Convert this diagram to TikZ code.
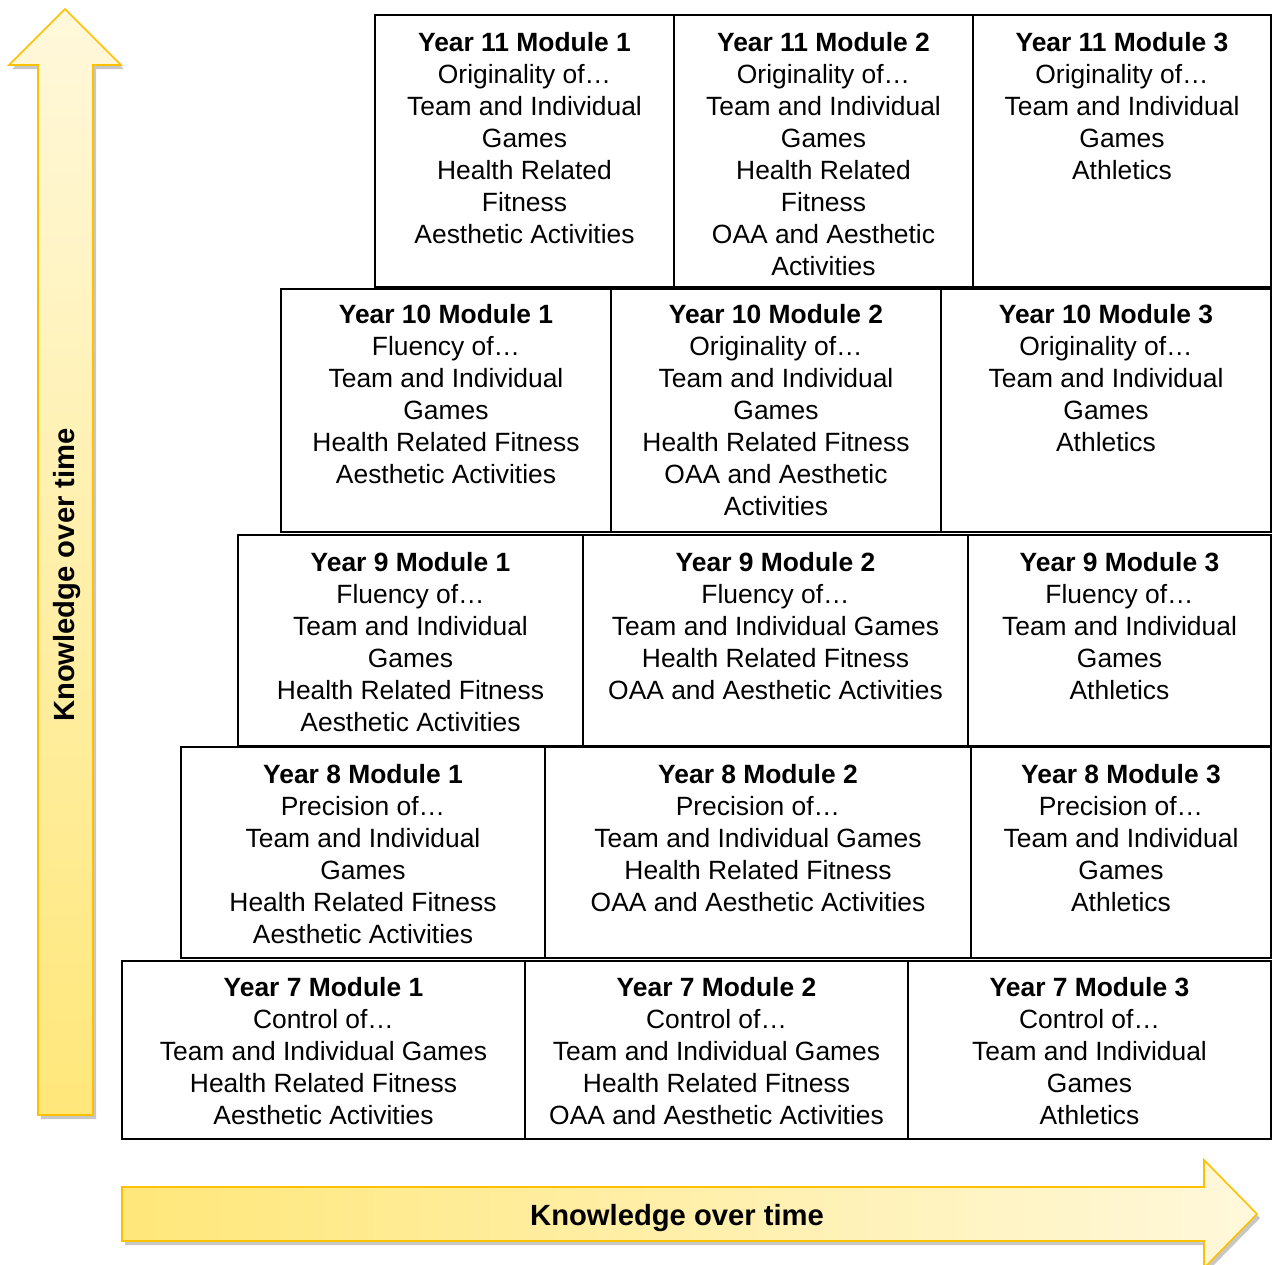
\documentclass[tikz,border=0pt]{standalone}
\usepackage{fontspec}
\setmainfont{Liberation Sans}
\definecolor{arrowedge}{HTML}{FFC000}
\definecolor{arrowdark}{HTML}{FFE77A}
\definecolor{arrowlight}{HTML}{FFF8DB}
\begin{document}
\begin{tikzpicture}[x=0.5pt,y=-0.5pt,
  cellbox/.style={draw=black,line width=1pt},
  celltext/.style={anchor=north,align=center,inner sep=0pt,font=\fontsize{13.2}{16}\selectfont},
  arrowtext/.style={font=\fontsize{14.6}{17}\selectfont\bfseries,inner sep=0pt},
  arrowshadow/.style={fill=black!40,opacity=0.55},
  arrowbody/.style={draw=arrowedge,line width=0.8pt,line join=miter}]
\useasboundingbox (0,0) rectangle (1272,1264);

% vertical arrow
\fill[arrowshadow,shift={(3,4)}] (65,9) -- (121,65) -- (93,65) -- (93,1115) -- (38,1115) -- (38,65) -- (9,65) -- cycle;
\shade[top color=arrowlight,bottom color=arrowdark] (65,9) -- (121,65) -- (93,65) -- (93,1115) -- (38,1115) -- (38,65) -- (9,65) -- cycle;
\draw[arrowbody] (65,9) -- (121,65) -- (93,65) -- (93,1115) -- (38,1115) -- (38,65) -- (9,65) -- cycle;
\node[arrowtext,rotate=90] (vlabel) at (67,575) {Knowledge over time};

% horizontal arrow
\fill[arrowshadow,shift={(3,4)}] (122,1187) -- (1204,1187) -- (1204,1160) -- (1257,1214) -- (1204,1268) -- (1204,1241) -- (122,1241) -- cycle;
\shade[left color=arrowdark,right color=arrowlight] (122,1187) -- (1204,1187) -- (1204,1160) -- (1257,1214) -- (1204,1268) -- (1204,1241) -- (122,1241) -- cycle;
\draw[arrowbody] (122,1187) -- (1204,1187) -- (1204,1160) -- (1257,1214) -- (1204,1268) -- (1204,1241) -- (122,1241) -- cycle;
\node[arrowtext] (hlabel) at (677,1218) {Knowledge over time};

% Year 11
\draw[cellbox] (375,15) rectangle (674,287);
\draw[cellbox] (674,15) rectangle (973,287);
\draw[cellbox] (973,15) rectangle (1271,287);
\node[celltext] (y11m1) at (524.5,32) {\textbf{Year 11 Module 1}\\Originality of…\\Team and Individual\\Games\\Health Related\\Fitness\\Aesthetic Activities};
\node[celltext] (y11m2) at (823.5,32) {\textbf{Year 11 Module 2}\\Originality of…\\Team and Individual\\Games\\Health Related\\Fitness\\OAA and Aesthetic\\Activities};
\node[celltext] (y11m3) at (1122,32) {\textbf{Year 11 Module 3}\\Originality of…\\Team and Individual\\Games\\Athletics};

% Year 10
\draw[cellbox] (281,289) rectangle (611,532);
\draw[cellbox] (611,289) rectangle (941,532);
\draw[cellbox] (941,289) rectangle (1271,532);
\node[celltext] (y10m1) at (446,304) {\textbf{Year 10 Module 1}\\Fluency of…\\Team and Individual\\Games\\Health Related Fitness\\Aesthetic Activities};
\node[celltext] (y10m2) at (776,304) {\textbf{Year 10 Module 2}\\Originality of…\\Team and Individual\\Games\\Health Related Fitness\\OAA and Aesthetic\\Activities};
\node[celltext] (y10m3) at (1106,304) {\textbf{Year 10 Module 3}\\Originality of…\\Team and Individual\\Games\\Athletics};

% Year 9
\draw[cellbox] (238,535) rectangle (583,746);
\draw[cellbox] (583,535) rectangle (968,746);
\draw[cellbox] (968,535) rectangle (1271,746);
\node[celltext] (y9m1) at (410.5,552) {\textbf{Year 9 Module 1}\\Fluency of…\\Team and Individual\\Games\\Health Related Fitness\\Aesthetic Activities};
\node[celltext] (y9m2) at (775.5,552) {\textbf{Year 9 Module 2}\\Fluency of…\\Team and Individual Games\\Health Related Fitness\\OAA and Aesthetic Activities};
\node[celltext] (y9m3) at (1119.5,552) {\textbf{Year 9 Module 3}\\Fluency of…\\Team and Individual\\Games\\Athletics};

% Year 8
\draw[cellbox] (181,747) rectangle (545,958);
\draw[cellbox] (545,747) rectangle (971,958);
\draw[cellbox] (971,747) rectangle (1271,958);
\node[celltext] (y8m1) at (363,764) {\textbf{Year 8 Module 1}\\Precision of…\\Team and Individual\\Games\\Health Related Fitness\\Aesthetic Activities};
\node[celltext] (y8m2) at (758,764) {\textbf{Year 8 Module 2}\\Precision of…\\Team and Individual Games\\Health Related Fitness\\OAA and Aesthetic Activities};
\node[celltext] (y8m3) at (1121,764) {\textbf{Year 8 Module 3}\\Precision of…\\Team and Individual\\Games\\Athletics};

% Year 7
\draw[cellbox] (122,961) rectangle (525,1139);
\draw[cellbox] (525,961) rectangle (908,1139);
\draw[cellbox] (908,961) rectangle (1271,1139);
\node[celltext] (y7m1) at (323.5,977) {\textbf{Year 7 Module 1}\\Control of…\\Team and Individual Games\\Health Related Fitness\\Aesthetic Activities};
\node[celltext] (y7m2) at (716.5,977) {\textbf{Year 7 Module 2}\\Control of…\\Team and Individual Games\\Health Related Fitness\\OAA and Aesthetic Activities};
\node[celltext] (y7m3) at (1089.5,977) {\textbf{Year 7 Module 3}\\Control of…\\Team and Individual\\Games\\Athletics};
\end{tikzpicture}
\end{document}
